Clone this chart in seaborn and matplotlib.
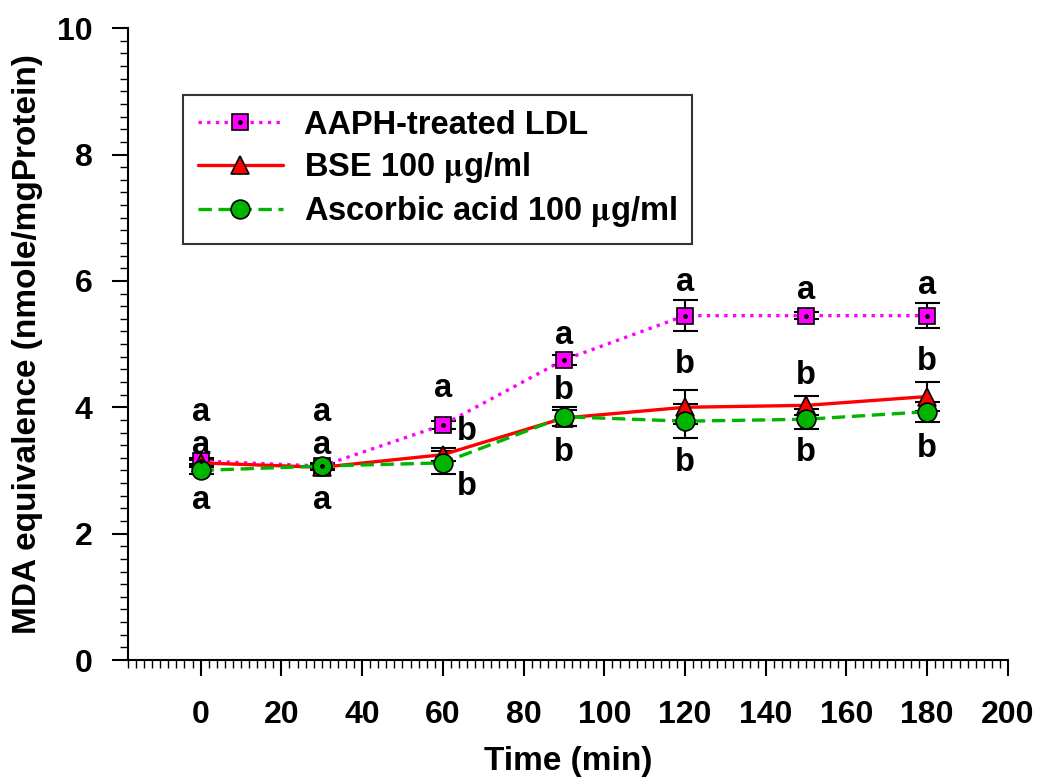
import pandas as pd
import matplotlib
matplotlib.use("Agg")
import matplotlib.pyplot as plt
import seaborn as sns
from matplotlib.ticker import MultipleLocator

time = [0, 30, 60, 90, 120, 150, 180]
aaph = [3.15, 3.07, 3.72, 4.75, 5.45, 5.45, 5.45]
aaph_err = [0.05, 0.04, 0.06, 0.08, 0.25, 0.06, 0.20]
bse = [3.12, 3.05, 3.25, 3.83, 4.00, 4.03, 4.17]
bse_err = [0.05, 0.05, 0.10, 0.12, 0.27, 0.15, 0.23]
asc = [3.00, 3.07, 3.12, 3.85, 3.78, 3.81, 3.93]
asc_err = [0.05, 0.05, 0.18, 0.15, 0.27, 0.16, 0.16]

labels = ["AAPH-treated LDL", r"BSE 100 $\mathrm{\mu}$g/ml", r"Ascorbic acid 100 $\mathrm{\mu}$g/ml"]

# significance letters: (x, y, text)
letter_x = [0, 0, 0, 30, 30, 30, 60, 66, 66, 90, 90, 90, 120, 120, 120, 150, 150, 150, 180, 180, 180]
letter_y = [3.92, 3.40, 2.53, 3.92, 3.40, 2.53, 4.30, 3.61, 2.74, 5.14, 4.27, 3.29,
            5.97, 4.67, 3.13, 5.85, 4.51, 3.29, 5.93, 4.72, 3.35]
letter_txt = ["a", "a", "a", "a", "a", "a", "a", "b", "b", "a", "b", "b",
              "a", "b", "b", "a", "b", "b", "a", "b", "b"]

sns.set_style("ticks")
plt.rcParams["font.family"] = ["Liberation Sans", "DejaVu Sans"]
plt.rcParams["font.weight"] = "bold"
plt.rcParams["mathtext.fontset"] = "stix"
for key in ["text.color", "axes.labelcolor", "xtick.color", "ytick.color", "axes.edgecolor"]:
    plt.rcParams[key] = "black"

fig = plt.figure(figsize=(10.37, 7.82), dpi=100)
ax = fig.add_axes([0.1234, 0.156, 0.8486, 0.808])

series = [
    (aaph, aaph_err, "#ff00ff", (1, 1.6), "s", 11, labels[0]),
    (bse, bse_err, "#ff0000", "", "^", 13, labels[1]),
    (asc, asc_err, "#00b400", (4, 2), "o", 13.5, labels[2]),
]

handles = []
for vals, err, col, dash, mk, ms, lab in series:
    df = pd.DataFrame({"time": time, "mda": vals})
    ax.errorbar(time, vals, yerr=err, fmt="none", ecolor="black", elinewidth=1.5,
                capsize=9, capthick=1.5, zorder=2)
    sns.lineplot(data=df, x="time", y="mda", ax=ax, color=col, linewidth=2.4,
                 marker=mk, markersize=ms, markeredgecolor="black", markeredgewidth=1.2,
                 markerfacecolor=col, zorder=3)
    line = ax.lines[-1]
    if dash:
        line.set_dashes(dash)
    handles.append(line)

# black centre dot on squares
ax.plot(time, aaph, linestyle="none", marker="o", markersize=2.5, color="black", zorder=4)
dot = ax.lines[-1]
handles[0] = (handles[0], dot)

for x, y, t in zip(letter_x, letter_y, letter_txt):
    ax.text(x, y, t, ha="center", va="center", fontsize=23.5, fontweight="bold")

ax.set_xlim(-18, 200)
ax.set_ylim(0, 10)
ax.xaxis.set_major_locator(MultipleLocator(20))
ax.xaxis.set_minor_locator(MultipleLocator(2))
ax.yaxis.set_major_locator(MultipleLocator(2))
ax.yaxis.set_minor_locator(MultipleLocator(0.2))
ax.set_xticks(range(0, 201, 20))
ax.tick_params(axis="both", which="major", length=11.5, width=1.5, labelsize=23, direction="out")
ax.tick_params(axis="both", which="minor", length=5.8, width=1.0, direction="out")
ax.tick_params(axis="x", which="major", pad=17)
ax.tick_params(axis="y", which="major", pad=14)
for lbl in ax.get_xticklabels() + ax.get_yticklabels():
    lbl.set_fontweight("bold")

sns.despine(ax=ax)
ax.spines["left"].set_linewidth(1.5)
ax.spines["bottom"].set_linewidth(1.5)

ax.set_xlabel("Time (min)", fontsize=24, fontweight="bold", labelpad=12)
ax.set_ylabel("MDA equivalence (nmole/mgProtein)", fontsize=24, fontweight="bold", labelpad=10)

leg = ax.legend(handles, labels, loc="upper left", bbox_to_anchor=(0.0625, 0.894),
                borderaxespad=0, frameon=True, fancybox=False, edgecolor="black",
                prop={"size": 23.5, "weight": "bold"}, handlelength=2.6,
                handletextpad=0.65, labelspacing=0.28, borderpad=0.45)
leg.get_frame().set_linewidth(1.5)

fig.savefig("out.png", dpi=100)
